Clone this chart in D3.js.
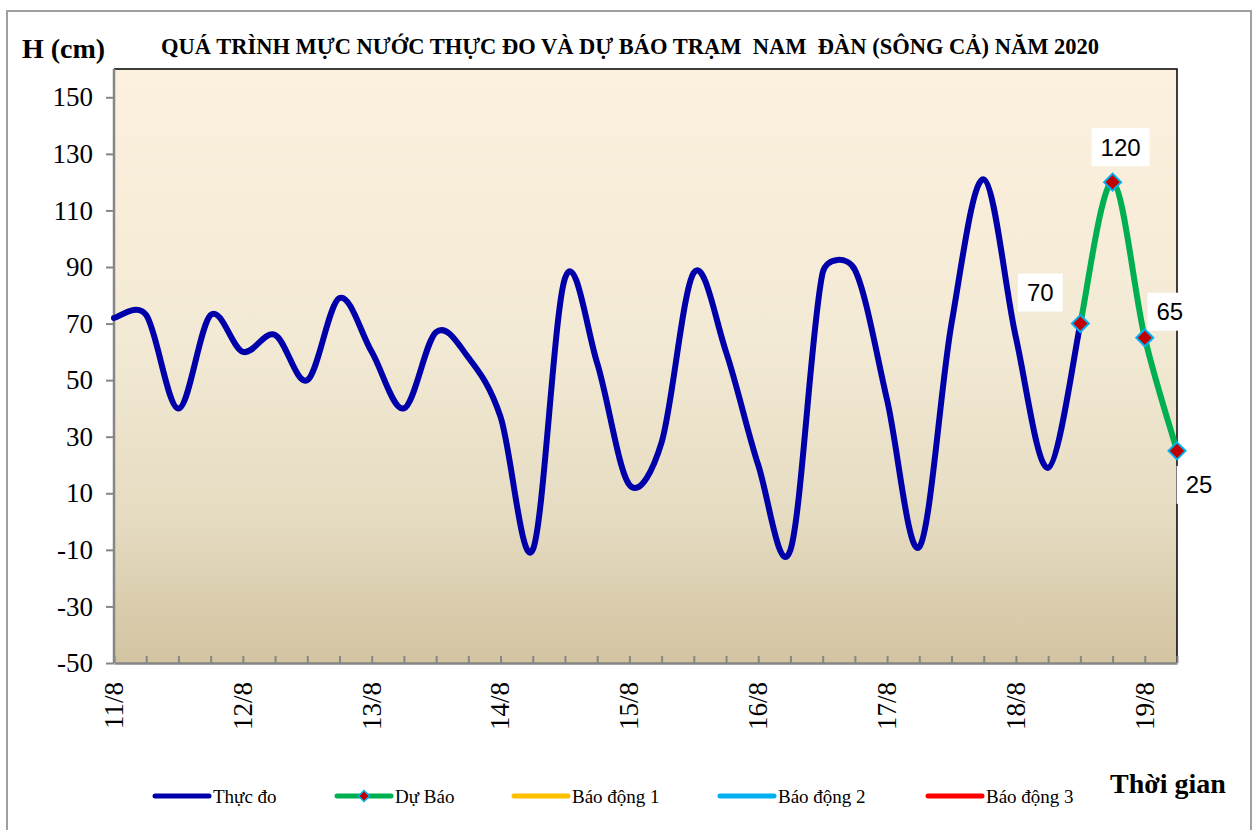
<!DOCTYPE html>
<html>
<head>
<meta charset="utf-8">
<script src="https://cdn.jsdelivr.net/npm/d3@7"></script>
<style>
  html, body { margin: 0; padding: 0; background: #fff; }
  svg { display: block; }
</style>
</head>
<body>
<div id="chart"></div>
<script>
// ---------------- DATA ----------------
const categories = [
  "11/8 00h","11/8 06h","11/8 12h","11/8 18h",
  "12/8 00h","12/8 06h","12/8 12h","12/8 18h",
  "13/8 00h","13/8 06h","13/8 12h","13/8 18h",
  "14/8 00h","14/8 06h","14/8 12h","14/8 18h",
  "15/8 00h","15/8 06h","15/8 12h","15/8 18h",
  "16/8 00h","16/8 06h","16/8 12h","16/8 18h",
  "17/8 00h","17/8 06h","17/8 12h","17/8 18h",
  "18/8 00h","18/8 06h","18/8 12h","18/8 18h",
  "19/8 00h","19/8 06h"
];
// Thực đo (measured), one value per 6 hours, from 11/8 00h to 18/8 12h
const measured = [72, 73, 40, 73, 60, 66, 50, 79, 60, 40, 67, 58, 37, -10, 86, 56,
                  13, 28, 88, 60, 20, -10, 88, 89, 43, -9, 70, 121, 65, 19, 70];
// Dự Báo (forecast), from 18/8 12h to 19/8 06h
const forecastCats = ["18/8 12h","18/8 18h","19/8 00h","19/8 06h"];
const forecast = [70, 120, 65, 25];
const yTicks = [-50, -30, -10, 10, 30, 50, 70, 90, 110, 130, 150];
const xTickLabels = ["11/8","12/8","13/8","14/8","15/8","16/8","17/8","18/8","19/8"];
const legendNames = ["Thực đo", "Dự Báo", "Báo động 1", "Báo động 2", "Báo động 3"];
const legendColors = ["#0000AA", "#00B050", "#FFC000", "#00B0F0", "#FF0000"];
const titleText = "QUÁ TRÌNH MỰC NƯỚC THỰC ĐO VÀ DỰ BÁO TRẠM  NAM  ĐÀN (SÔNG CẢ) NĂM 2020";
// data-label placement (offset of label box centre from its point, px)
const labelOffsets = [[-40, -31], [8, -35], [25, -26], [22, 34]];

// ---------------- LAYOUT ----------------
const W = 1256, H = 830;
const plot = { left: 114, right: 1177, top: 69, bottom: 663 };

const svg = d3.select("#chart").append("svg")
  .attr("width", W).attr("height", H)
  .style("font-family", "'Liberation Serif', 'Times New Roman', serif");

svg.append("rect").attr("width", W).attr("height", H).attr("fill", "#fff");
// outer chart border
svg.append("rect").attr("x", 7).attr("y", 11).attr("width", 1244).attr("height", 840)
  .attr("fill", "none").attr("stroke", "#A0A0A0").attr("stroke-width", 2);

const x = d3.scalePoint().domain(categories).range([plot.left, plot.right]);
const y = d3.scaleLinear().domain([-50, 160]).range([plot.bottom, plot.top]);

// background gradient
const defs = svg.append("defs");
const grad = defs.append("linearGradient").attr("id", "bg")
  .attr("x1", 0).attr("y1", 0).attr("x2", 0).attr("y2", 1);
[[0, "#FCF1DE"], [0.45, "#F3EAD5"], [0.75, "#E6DCC2"], [1, "#D2C4A1"]].forEach(([o, c]) =>
  grad.append("stop").attr("offset", o).attr("stop-color", c));

svg.append("rect")
  .attr("x", plot.left).attr("y", plot.top)
  .attr("width", plot.right - plot.left).attr("height", plot.bottom - plot.top)
  .attr("fill", "url(#bg)");

// top/right border (black)
svg.append("path")
  .attr("d", `M${plot.left},${plot.top}H${plot.right}V${plot.bottom}`)
  .attr("fill", "none").attr("stroke", "#000").attr("stroke-width", 1.5);

// y axis
const yAxis = d3.axisLeft(y).tickValues(yTicks).tickSize(8).tickPadding(13).tickFormat(d => String(d));
const gy = svg.append("g").attr("transform", `translate(${plot.left},0)`).call(yAxis);
gy.select(".domain").attr("stroke", "#868686").attr("stroke-width", 2.5)
  .attr("d", `M0,${plot.top}V${plot.bottom}`);
gy.selectAll(".tick line").attr("stroke", "#868686").attr("stroke-width", 2);
gy.selectAll(".tick text").attr("font-size", 27).attr("fill", "#000")
  .attr("font-family", "'Liberation Serif', serif");

// x axis
const xAxis = d3.axisBottom(x).tickSizeInner(-7).tickSizeOuter(0).tickFormat("");
const gx = svg.append("g").attr("transform", `translate(0,${plot.bottom})`).call(xAxis);
gx.select(".domain").attr("stroke", "#868686").attr("stroke-width", 2.5);
gx.selectAll(".tick line").attr("stroke", "#868686").attr("stroke-width", 2);

// x tick labels (one per day)
const dayCats = categories.filter(c => c.endsWith("00h"));
svg.append("g").selectAll("text").data(dayCats).join("text")
  .attr("transform", d => `translate(${x(d)},${plot.bottom + 19}) rotate(-90)`)
  .attr("text-anchor", "end").attr("dy", "0.33em")
  .attr("font-size", 27).attr("fill", "#000")
  .text((d, i) => xTickLabels[i]);

// ---------------- Excel-like smoothing curve ----------------
function ExcelSmooth(context) { this._context = context; }
ExcelSmooth.prototype = {
  areaStart() {}, areaEnd() {},
  lineStart() { this._pts = []; },
  point(px, py) { this._pts.push([+px, +py]); },
  lineEnd() {
    const p = this._pts, c = this._context, n = p.length;
    if (!n) return;
    const dist = (a, b) => Math.hypot(b[0] - a[0], b[1] - a[1]);
    c.moveTo(p[0][0], p[0][1]);
    for (let i = 0; i < n - 1; i++) {
      const p0 = p[i - 1] || p[i], p1 = p[i], p2 = p[i + 1], p3 = p[i + 2] || p[i + 1];
      const d12 = dist(p1, p2), d02 = dist(p0, p2), d13 = dist(p1, p3);
      const f0 = d02 ? Math.min(1 / 6, d12 / (2 * d02)) : 0;
      const f1 = d13 ? Math.min(1 / 6, d12 / (2 * d13)) : 0;
      c.bezierCurveTo(
        p1[0] + (p2[0] - p0[0]) * f0, p1[1] + (p2[1] - p0[1]) * f0,
        p2[0] - (p3[0] - p1[0]) * f1, p2[1] - (p3[1] - p1[1]) * f1,
        p2[0], p2[1]);
    }
  }
};
const curveExcel = ctx => new ExcelSmooth(ctx);

const measuredData = measured.map((v, i) => ({ c: categories[i], v }));
const forecastData = forecast.map((v, i) => ({ c: forecastCats[i], v }));

const line = d3.line().x(d => x(d.c)).y(d => y(d.v)).curve(curveExcel);

svg.append("path").datum(measuredData).attr("d", line)
  .attr("fill", "none").attr("stroke", legendColors[0]).attr("stroke-width", 6)
  .attr("stroke-linejoin", "round").attr("stroke-linecap", "round");

svg.append("path").datum(forecastData).attr("d", line)
  .attr("fill", "none").attr("stroke", legendColors[1]).attr("stroke-width", 6)
  .attr("stroke-linejoin", "round").attr("stroke-linecap", "round");

// markers
const diamond = r => `M0,${-r}L${r},0L0,${r}L${-r},0Z`;
svg.append("g").selectAll("path").data(forecastData).join("path")
  .attr("transform", d => `translate(${x(d.c)},${y(d.v)})`)
  .attr("d", diamond(8.5))
  .attr("fill", "#C00000").attr("stroke", "#00B0F0").attr("stroke-width", 2);

// data labels
const lab = svg.append("g").attr("font-family", "'Liberation Sans', Arial, sans-serif");
forecastData.forEach((d, i) => {
  const cx = x(d.c) + labelOffsets[i][0], cy = y(d.v) + labelOffsets[i][1];
  const t = lab.append("text").attr("x", cx).attr("y", cy).attr("dy", "0.36em")
    .attr("text-anchor", "middle").attr("font-size", 24).attr("fill", "#000").text(d.v);
  const bw = t.node().getComputedTextLength() + 18;
  lab.insert("rect", "text").attr("x", cx - bw / 2).attr("y", cy - 19)
    .attr("width", bw).attr("height", 38).attr("fill", "#fff");
});

// title & axis titles
svg.append("text").attr("x", 630).attr("y", 54).attr("text-anchor", "middle")
  .attr("font-size", 22.5).attr("font-weight", "bold").attr("fill", "#000")
  .text(titleText).attr("xml:space", "preserve").style("white-space", "pre");
svg.append("text").attr("x", 22).attr("y", 58)
  .attr("font-size", 28).attr("font-weight", "bold").attr("fill", "#000").text("H (cm)");
svg.append("text").attr("x", 1110).attr("y", 793)
  .attr("font-size", 28).attr("font-weight", "bold").attr("fill", "#000").text("Thời gian");

// legend
const legendX = [155, 337, 514, 720, 928];
const lg = svg.append("g");
legendNames.forEach((name, i) => {
  const lx = legendX[i], ly = 796;
  lg.append("line").attr("x1", lx).attr("x2", lx + 54).attr("y1", ly).attr("y2", ly)
    .attr("stroke", legendColors[i]).attr("stroke-width", 5).attr("stroke-linecap", "round");
  if (i === 1) {
    lg.append("path").attr("transform", `translate(${lx + 27},${ly})`).attr("d", diamond(5.5))
      .attr("fill", "#C00000").attr("stroke", "#00B0F0").attr("stroke-width", 1.5);
  }
  lg.append("text").attr("x", lx + 58).attr("y", ly + 7).attr("font-size", 19)
    .attr("fill", "#000").text(name);
});
</script>
</body>
</html>
